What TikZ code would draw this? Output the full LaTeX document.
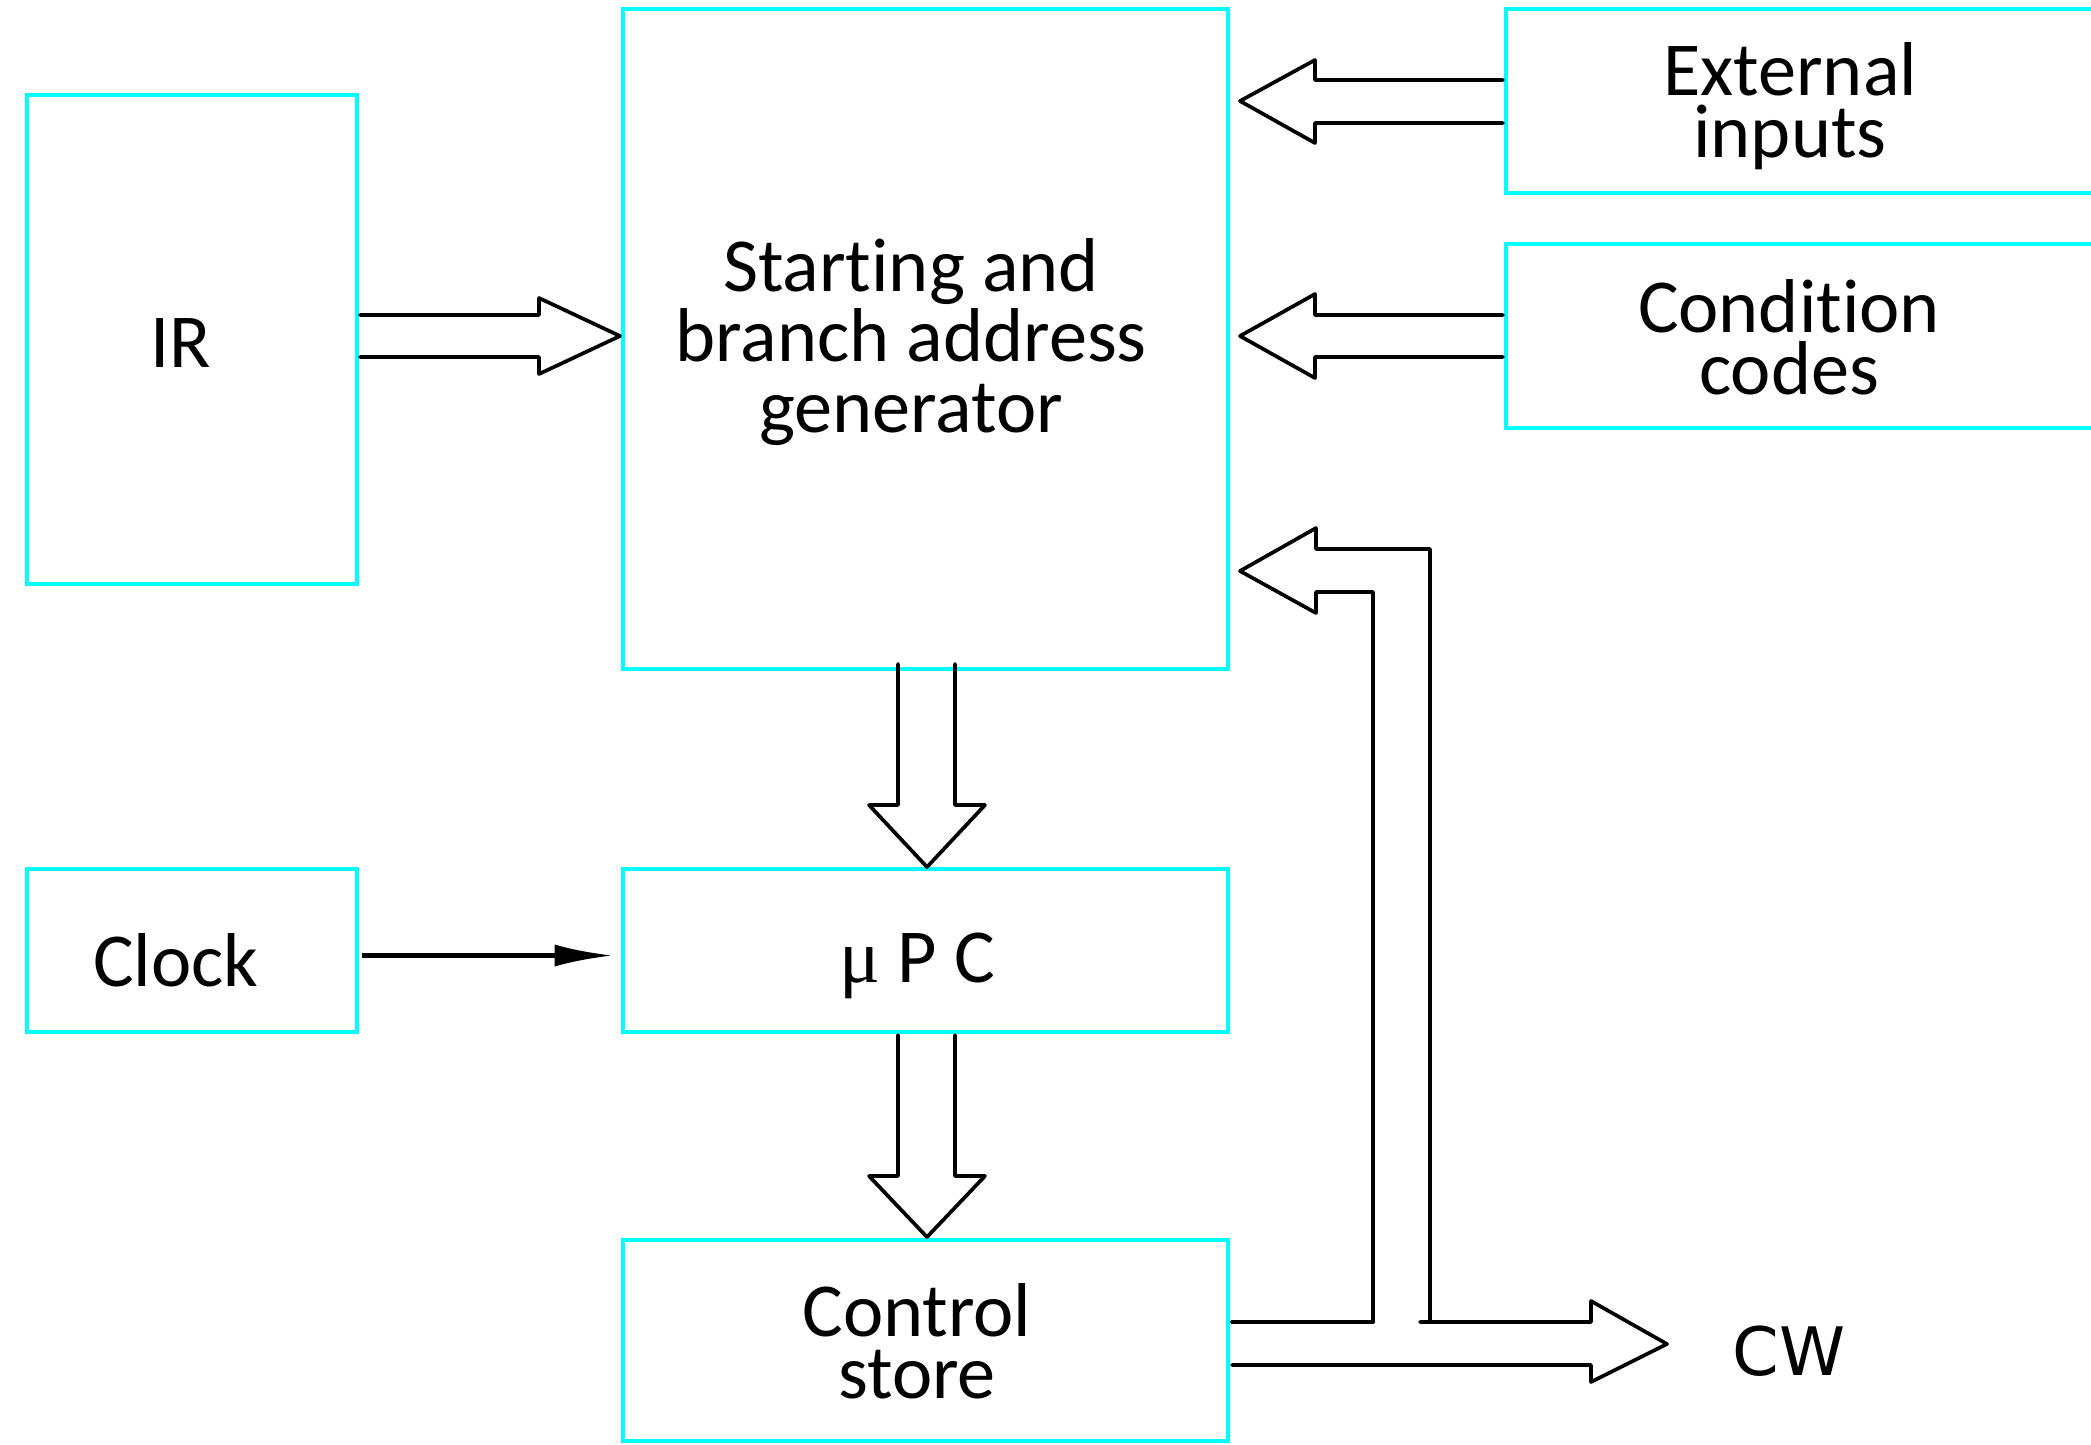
\documentclass[tikz,border=0pt]{standalone}
\usepackage{fontspec}
\setmainfont{Carlito}[Ligatures=NoCommon]
\newfontfamily\cwfont{DejaVu Sans}
\newfontfamily\mufont{Liberation Serif}
\usetikzlibrary{arrows.meta}

\definecolor{boxcyan}{RGB}{0,255,255}
\tikzset{
  blk/.style={draw=boxcyan, line width=1.2pt, inner sep=0pt},
  txt/.style={inner sep=0pt, align=center, font=\fontsize{21.7}{17.5}\selectfont},
  bus/.style={line width=1.05pt, line join=round, line cap=round},
}

\begin{document}
\begin{tikzpicture}[x=0.01cm, y=-0.01cm]
\path[use as bounding box, clip] (0,0) rectangle (2091,1444);

% The blocks
\node[blk, minimum width=3.3cm, minimum height=4.89cm] (ir) at (192,339.5) {};
\node[blk, minimum width=6.05cm, minimum height=6.6cm] (sag) at (925.5,339) {};
\node[blk, minimum width=5.9cm, minimum height=1.84cm] (ext) at (1801,101) {};
\node[blk, minimum width=5.9cm, minimum height=1.84cm] (cc) at (1801,336) {};
\node[blk, minimum width=3.3cm, minimum height=1.63cm] (clk) at (192,950.5) {};
\node[blk, minimum width=6.05cm, minimum height=1.63cm] (upc) at (925.5,950.5) {};
\node[blk, minimum width=6.05cm, minimum height=2.01cm] (cs) at (925.5,1340.5) {};

% Their texts
\node[txt] (irt) at (181,343) {IR};
\node[txt, font=\fontsize{21.7}{20}\selectfont] (sagt) at (911,342) {Starting and\\branch address\\generator};
\node[txt] (extt) at (1790,106) {External\\inputs};
\node[txt] (cct) at (1789,337) {Condition\\codes};
\node[txt] (clkt) at (176,960) {Clock};
\node[txt] (upct) at (917,966) {{\mufont μ} P C};
\node[txt] (cst) at (917,1341) {Control\\store};
\node[font=\cwfont\fontsize{19}{22}\selectfont] (cw) at (1789,1351) {CW};

% Wide bus arrows
\draw[bus] (360,315) -- (539,315) -- (539,298) -- (620,336) -- (539,374) -- (539,357) -- (360,357);
\draw[bus] (1503,80) -- (1315,80) -- (1315,60) -- (1240,101) -- (1315,143) -- (1315,123) -- (1503,123);
\draw[bus] (1503,315) -- (1315,315) -- (1315,294) -- (1240,336) -- (1315,378) -- (1315,357) -- (1503,357);
\draw[bus] (898,664) -- (898,805) -- (869,805) -- (927,867) -- (985,805) -- (955,805) -- (955,664);
\draw[bus] (898,1035) -- (898,1176) -- (869,1176) -- (927,1237) -- (985,1176) -- (955,1176) -- (955,1035);

% Feedback from control store and CW output
\draw[bus] (1373,1322) -- (1373,592) -- (1316,592) -- (1316,613) -- (1240,571) -- (1316,528) -- (1316,549) -- (1430,549) -- (1430,1322);
\draw[bus] (1232,1322) -- (1373,1322);
\draw[bus] (1420,1322) -- (1591,1322) -- (1591,1301) -- (1667,1344) -- (1591,1382) -- (1591,1365) -- (1232,1365);

% Clock line
\draw[line width=1.4pt, shorten <=0.03cm, shorten >=0.07cm,
      -{Latex[length=0.59cm, width=0.22cm]}] ([yshift=-0.05cm]clk.east) -- ([yshift=-0.05cm]upc.west);
\end{tikzpicture}
\end{document}
